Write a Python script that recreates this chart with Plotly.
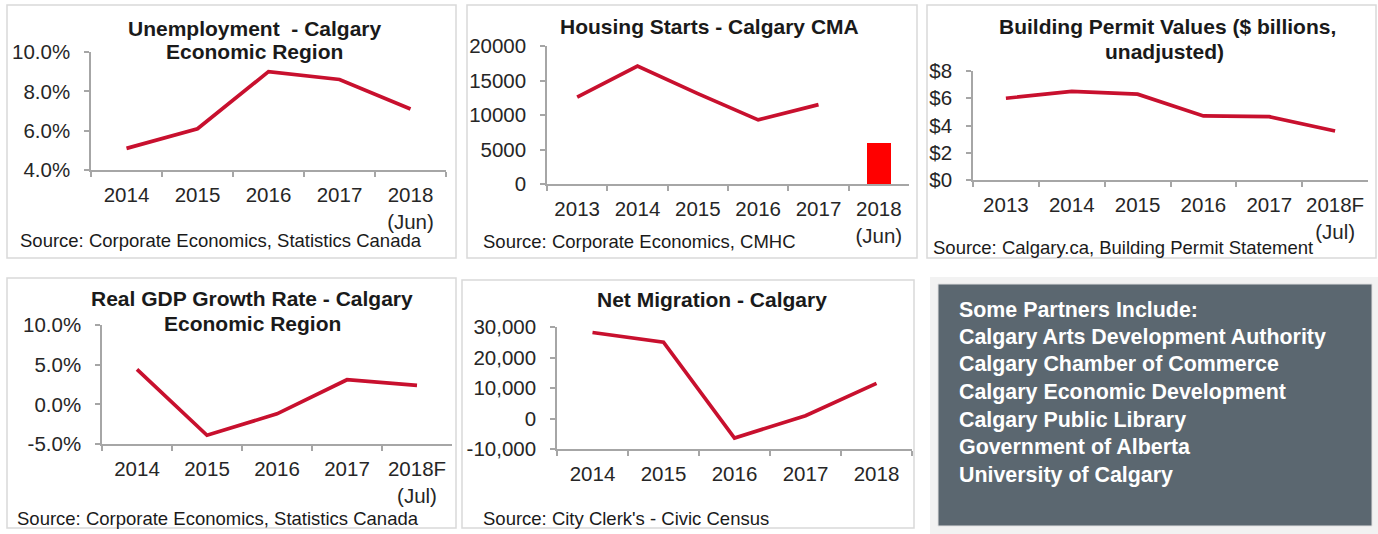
import plotly.graph_objects as go

W, H = 1378, 534

# ---------------- data ----------------
unemp_cats = ["2014", "2015", "2016", "2017", "2018<br>(Jun)"]
unemp_vals = [5.1, 6.1, 9.0, 8.6, 7.1]
unemp_ticks = [4, 6, 8, 10]
unemp_ticktext = ["4.0%", "6.0%", "8.0%", "10.0%"]

housing_cats = ["2013", "2014", "2015", "2016", "2017", "2018<br>(Jun)"]
housing_line_vals = [12600, 17100, 13100, 9300, 11500]
housing_bar_vals = [5900]
housing_ticks = [0, 5000, 10000, 15000, 20000]
housing_ticktext = ["0", "5000", "10000", "15000", "20000"]

permit_cats = ["2013", "2014", "2015", "2016", "2017", "2018F<br>(Jul)"]
permit_vals = [6.0, 6.5, 6.3, 4.7, 4.65, 3.6]
permit_ticks = [0, 2, 4, 6, 8]
permit_ticktext = ["$0", "$2", "$4", "$6", "$8"]

gdp_cats = ["2014", "2015", "2016", "2017", "2018F<br>(Jul)"]
gdp_vals = [4.4, -3.9, -1.2, 3.1, 2.4]
gdp_ticks = [-5, 0, 5, 10]
gdp_ticktext = ["-5.0%", "0.0%", "5.0%", "10.0%"]

migr_cats = ["2014", "2015", "2016", "2017", "2018"]
migr_vals = [28200, 25000, -6400, 900, 11500]
migr_ticks = [-10000, 0, 10000, 20000, 30000]
migr_ticktext = ["-10,000", "0", "10,000", "20,000", "30,000"]

partners = [
    "Some Partners Include:",
    "Calgary Arts Development Authority",
    "Calgary Chamber of Commerce",
    "Calgary Economic Development",
    "Calgary Public Library",
    "Government of Alberta",
    "University of Calgary",
]

# ---------------- styling ----------------
FONT = "Arial, 'Liberation Sans', sans-serif"
LINE_COLOR = "#C8102E"
AXIS_COLOR = "#A6A6A6"
TICK_FONT = dict(family=FONT, size=20.5, color="#262626")


def px(x):
    return x / W


def py(y):
    return 1 - y / H


fig = go.Figure()

panels = [
    dict(cats=unemp_cats, rng=[4, 10], tv=unemp_ticks, tt=unemp_ticktext, x0=91, x1=446, yt=52, yb=170),
    dict(cats=housing_cats, rng=[0, 20000], tv=housing_ticks, tt=housing_ticktext, x0=547, x1=909, yt=46, yb=184),
    dict(cats=permit_cats, rng=[0, 8], tv=permit_ticks, tt=permit_ticktext, x0=973, x1=1368, yt=71, yb=180),
    dict(cats=gdp_cats, rng=[-5, 10], tv=gdp_ticks, tt=gdp_ticktext, x0=102, x1=452, yt=325, yb=444),
    dict(cats=migr_cats, rng=[-10000, 30000], tv=migr_ticks, tt=migr_ticktext, x0=557, x1=912, yt=327, yb=449),
]

layout_axes = {}
for i, p in enumerate(panels, start=1):
    xa = "xaxis" if i == 1 else f"xaxis{i}"
    ya = "yaxis" if i == 1 else f"yaxis{i}"
    yref = "y" if i == 1 else f"y{i}"
    xref = "x" if i == 1 else f"x{i}"
    layout_axes[xa] = dict(
        domain=[px(p["x0"]), px(p["x1"])],
        anchor=yref,
        type="category",
        categoryorder="array",
        categoryarray=p["cats"],
        range=[-0.5, len(p["cats"]) - 0.5],
        showline=True, linecolor=AXIS_COLOR, linewidth=1.5,
        ticks="outside", tickson="boundaries", ticklen=5, tickcolor=AXIS_COLOR, tickwidth=1.5,
        showgrid=False, zeroline=False, automargin=False,
        tickfont=TICK_FONT, ticklabelstandoff=6,
        fixedrange=True,
    )
    layout_axes[ya] = dict(
        domain=[py(p["yb"]), py(p["yt"])],
        anchor=xref,
        range=p["rng"],
        tickvals=p["tv"], ticktext=p["tt"],
        showline=True, linecolor=AXIS_COLOR, linewidth=1.5,
        ticks="outside", ticklen=5, tickcolor=AXIS_COLOR, tickwidth=1.5,
        showgrid=False, zeroline=False, automargin=False,
        tickfont=TICK_FONT, ticklabelstandoff=10,
        fixedrange=True,
    )

line_kw = dict(mode="lines", line=dict(color=LINE_COLOR, width=3.7), showlegend=False, hoverinfo="x+y")

fig.add_trace(go.Scatter(x=unemp_cats, y=unemp_vals, xaxis="x", yaxis="y", **line_kw))
fig.add_trace(go.Scatter(x=housing_cats[:len(housing_line_vals)], y=housing_line_vals, xaxis="x2", yaxis="y2", **line_kw))
fig.add_trace(go.Bar(x=housing_cats[len(housing_line_vals):], y=housing_bar_vals, xaxis="x2", yaxis="y2",
                     marker=dict(color="#FF0000", line=dict(width=0)), width=0.4, showlegend=False))
fig.add_trace(go.Scatter(x=permit_cats, y=permit_vals, xaxis="x3", yaxis="y3", **line_kw))
fig.add_trace(go.Scatter(x=gdp_cats, y=gdp_vals, xaxis="x4", yaxis="y4", **line_kw))
fig.add_trace(go.Scatter(x=migr_cats, y=migr_vals, xaxis="x5", yaxis="y5", **line_kw))

# ---------------- shapes: panel borders & partner box ----------------
shapes = []
borders = [(7, 5, 456, 258), (467, 5, 917, 258), (927, 5, 1376, 258), (7, 278, 456, 528), (462, 280, 914, 528)]
for (x0, y0, x1, y1) in borders:
    shapes.append(dict(type="rect", xref="paper", yref="paper", x0=px(x0), x1=px(x1), y0=py(y1), y1=py(y0),
                       line=dict(color="#D9D9D9", width=1.5), fillcolor="rgba(0,0,0,0)", layer="below"))
shapes.append(dict(type="rect", xref="paper", yref="paper", x0=px(930), x1=px(1378), y0=py(534), y1=py(277),
                   line=dict(width=0), fillcolor="#F2F2F2", layer="below"))
shapes.append(dict(type="rect", xref="paper", yref="paper", x0=px(938), x1=px(1372), y0=py(526), y1=py(284),
                   line=dict(color="#E0E0E0", width=1), fillcolor="#5B6770", layer="below"))

# ---------------- annotations ----------------
ann = []


def title(text, x, y, size=21):
    ann.append(dict(text=f"<b>{text}</b>", x=px(x), y=py(y), xref="paper", yref="paper",
                    xanchor="center", yanchor="middle", showarrow=False,
                    font=dict(family=FONT, size=size, color="#1A1A1A")))


def source(text, x, y):
    ann.append(dict(text=text, x=px(x), y=py(y), xref="paper", yref="paper",
                    xanchor="left", yanchor="middle", showarrow=False,
                    font=dict(family=FONT, size=18.5, color="#1A1A1A")))


title("Unemployment  - Calgary", 255, 28)
title("Economic Region", 255, 51)
title("Housing Starts - Calgary CMA", 709, 26)
title("Building Permit Values ($ billions,", 1167, 26)
title("unadjusted)", 1164, 51)
title("Real GDP Growth Rate - Calgary", 252, 298)
title("Economic Region", 252, 323)
title("Net Migration - Calgary", 712, 299)

source("Source: Corporate Economics, Statistics Canada", 18, 240)
source("Source: Corporate Economics, CMHC", 481, 241)
source("Source: Calgary.ca, Building Permit Statement", 931, 247)
source("Source: Corporate Economics, Statistics Canada", 15, 518)
source("Source: City Clerk's - Civic Census", 481, 518)

for k, name in enumerate(partners):
    ann.append(dict(text=f"<b>{name}</b>", x=px(957), y=py(309.5 + k * 27.5), xref="paper", yref="paper",
                    xanchor="left", yanchor="middle", showarrow=False,
                    font=dict(family=FONT, size=21.4, color="#FFFFFF")))

fig.update_layout(
    width=W, height=H, autosize=False,
    margin=dict(l=0, r=0, t=0, b=0, pad=0, autoexpand=False),
    paper_bgcolor="white", plot_bgcolor="rgba(0,0,0,0)",
    shapes=shapes, annotations=ann, showlegend=False,
    bargap=0,
    **layout_axes,
)

fig.write_html(
    "out.html",
    config={"displayModeBar": False},
    post_script="document.body.style.margin='0';document.body.style.padding='0';document.body.style.overflow='hidden';",
)
